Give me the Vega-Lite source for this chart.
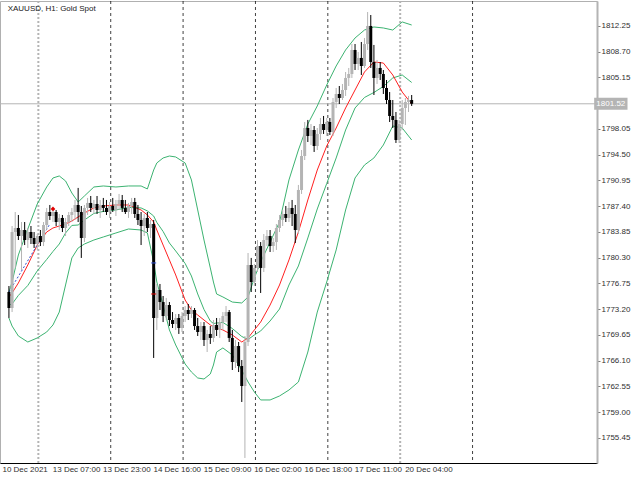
{
  "$schema": "https://vega.github.io/schema/vega-lite/v6.json",
  "width": 597,
  "height": 462,
  "autosize": {"type": "none"},
  "padding": {"left": 0, "top": 1, "right": 43, "bottom": 17},
  "background": "#ffffff",
  "config": {
    "view": {"stroke": "#b0b0b0", "strokeWidth": 1},
    "axis": {"title": null, "grid": false, "labelFont": "Liberation Sans", "labelFontSize": 8, "labelColor": "#303030", "labelOverlap": false, "labelFlush": false},
    "axisX": {"tickCount": 20},
    "axisY": {"tickCount": 30},
    "font": "Liberation Sans"
  },
  "datasets": {
    "candles": [
      {"i":0,"o":1775.57,"h":1776.40,"l":1771.99,"c":1773.37},
      {"i":1,"o":1773.37,"h":1784.67,"l":1772.81,"c":1783.84},
      {"i":2,"o":1783.84,"h":1786.60,"l":1778.89,"c":1784.40},
      {"i":3,"o":1784.40,"h":1786.19,"l":1782.74,"c":1783.29},
      {"i":4,"o":1783.29,"h":1785.22,"l":1778.61,"c":1784.12},
      {"i":5,"o":1784.12,"h":1785.22,"l":1782.05,"c":1782.74},
      {"i":6,"o":1782.74,"h":1784.40,"l":1781.64,"c":1783.84},
      {"i":7,"o":1783.84,"h":1784.67,"l":1782.19,"c":1783.02},
      {"i":8,"o":1783.02,"h":1783.84,"l":1781.64,"c":1782.19},
      {"i":9,"o":1782.19,"h":1783.57,"l":1781.37,"c":1783.29},
      {"i":10,"o":1783.29,"h":1784.12,"l":1781.91,"c":1782.46},
      {"i":11,"o":1782.46,"h":1785.22,"l":1781.91,"c":1784.81},
      {"i":12,"o":1784.81,"h":1787.16,"l":1784.12,"c":1786.60},
      {"i":13,"o":1786.60,"h":1787.57,"l":1785.50,"c":1786.05},
      {"i":14,"o":1786.05,"h":1787.16,"l":1785.22,"c":1786.60},
      {"i":15,"o":1786.60,"h":1786.88,"l":1784.67,"c":1785.22},
      {"i":16,"o":1785.22,"h":1786.33,"l":1784.12,"c":1785.78},
      {"i":17,"o":1785.78,"h":1786.19,"l":1783.84,"c":1784.40},
      {"i":18,"o":1784.40,"h":1785.78,"l":1783.29,"c":1785.22},
      {"i":19,"o":1785.22,"h":1786.60,"l":1784.67,"c":1786.19},
      {"i":20,"o":1786.19,"h":1787.16,"l":1785.22,"c":1786.60},
      {"i":21,"o":1786.60,"h":1788.26,"l":1785.50,"c":1787.57},
      {"i":22,"o":1787.57,"h":1789.92,"l":1785.22,"c":1786.60},
      {"i":23,"o":1786.60,"h":1787.43,"l":1780.27,"c":1783.02},
      {"i":24,"o":1783.02,"h":1787.57,"l":1782.46,"c":1787.16},
      {"i":25,"o":1787.16,"h":1788.54,"l":1786.19,"c":1787.85},
      {"i":26,"o":1787.85,"h":1788.81,"l":1786.60,"c":1787.16},
      {"i":27,"o":1787.16,"h":1788.26,"l":1786.33,"c":1787.71},
      {"i":28,"o":1787.71,"h":1788.81,"l":1786.33,"c":1786.88},
      {"i":29,"o":1786.88,"h":1788.26,"l":1785.78,"c":1787.57},
      {"i":30,"o":1787.57,"h":1788.54,"l":1786.60,"c":1787.16},
      {"i":31,"o":1787.16,"h":1788.26,"l":1786.19,"c":1786.60},
      {"i":32,"o":1786.60,"h":1787.98,"l":1785.78,"c":1787.43},
      {"i":33,"o":1787.43,"h":1788.54,"l":1786.60,"c":1786.88},
      {"i":34,"o":1786.88,"h":1788.26,"l":1786.05,"c":1787.71},
      {"i":35,"o":1787.71,"h":1789.09,"l":1786.88,"c":1788.26},
      {"i":36,"o":1788.26,"h":1788.95,"l":1786.60,"c":1787.16},
      {"i":37,"o":1787.16,"h":1788.26,"l":1786.33,"c":1786.60},
      {"i":38,"o":1786.60,"h":1787.85,"l":1785.78,"c":1787.43},
      {"i":39,"o":1787.43,"h":1788.54,"l":1786.33,"c":1787.98},
      {"i":40,"o":1787.98,"h":1788.54,"l":1785.78,"c":1786.33},
      {"i":41,"o":1786.33,"h":1787.57,"l":1784.81,"c":1785.50},
      {"i":42,"o":1785.50,"h":1786.60,"l":1782.05,"c":1784.67},
      {"i":43,"o":1784.67,"h":1786.33,"l":1783.29,"c":1785.78},
      {"i":44,"o":1785.78,"h":1786.60,"l":1783.84,"c":1784.40},
      {"i":45,"o":1784.40,"h":1785.50,"l":1783.02,"c":1784.95},
      {"i":46,"o":1784.95,"h":1785.50,"l":1766.48,"c":1771.99},
      {"i":47,"o":1771.99,"h":1776.68,"l":1770.34,"c":1775.85},
      {"i":48,"o":1775.85,"h":1776.68,"l":1773.09,"c":1774.19},
      {"i":49,"o":1774.19,"h":1775.02,"l":1771.43,"c":1772.26},
      {"i":50,"o":1772.26,"h":1774.75,"l":1771.71,"c":1773.78},
      {"i":51,"o":1773.78,"h":1774.19,"l":1770.88,"c":1771.71},
      {"i":52,"o":1771.71,"h":1772.81,"l":1770.61,"c":1771.16},
      {"i":53,"o":1771.16,"h":1772.54,"l":1770.34,"c":1771.99},
      {"i":54,"o":1771.99,"h":1772.54,"l":1769.79,"c":1770.61},
      {"i":55,"o":1770.61,"h":1772.81,"l":1770.06,"c":1772.26},
      {"i":56,"o":1772.26,"h":1773.64,"l":1771.43,"c":1773.09},
      {"i":57,"o":1773.09,"h":1773.92,"l":1771.71,"c":1772.54},
      {"i":58,"o":1772.54,"h":1773.64,"l":1771.99,"c":1773.09},
      {"i":59,"o":1773.09,"h":1773.37,"l":1770.34,"c":1770.88},
      {"i":60,"o":1770.88,"h":1771.99,"l":1769.51,"c":1770.06},
      {"i":61,"o":1770.06,"h":1771.43,"l":1768.96,"c":1770.88},
      {"i":62,"o":1770.88,"h":1771.43,"l":1768.13,"c":1768.96},
      {"i":63,"o":1768.96,"h":1770.34,"l":1767.30,"c":1769.79},
      {"i":64,"o":1769.79,"h":1770.88,"l":1768.41,"c":1769.24},
      {"i":65,"o":1769.24,"h":1771.71,"l":1768.68,"c":1771.03},
      {"i":66,"o":1771.03,"h":1771.99,"l":1769.51,"c":1770.34},
      {"i":67,"o":1770.34,"h":1771.99,"l":1769.24,"c":1771.43},
      {"i":68,"o":1771.43,"h":1772.81,"l":1770.34,"c":1772.26},
      {"i":69,"o":1772.26,"h":1773.64,"l":1771.43,"c":1772.81},
      {"i":70,"o":1772.81,"h":1773.09,"l":1768.68,"c":1769.24},
      {"i":71,"o":1769.24,"h":1770.34,"l":1764.82,"c":1765.92},
      {"i":72,"o":1765.92,"h":1768.96,"l":1765.10,"c":1768.13},
      {"i":73,"o":1768.13,"h":1768.68,"l":1764.54,"c":1765.37},
      {"i":74,"o":1765.37,"h":1766.20,"l":1760.41,"c":1762.61},
      {"i":75,"o":1762.61,"h":1769.51,"l":1752.69,"c":1768.68},
      {"i":76,"o":1768.68,"h":1780.95,"l":1768.13,"c":1779.30},
      {"i":77,"o":1779.30,"h":1780.27,"l":1775.57,"c":1776.95},
      {"i":78,"o":1776.95,"h":1779.44,"l":1776.40,"c":1778.89},
      {"i":79,"o":1778.89,"h":1782.74,"l":1778.33,"c":1781.91},
      {"i":80,"o":1781.91,"h":1782.46,"l":1775.44,"c":1778.89},
      {"i":81,"o":1778.89,"h":1783.57,"l":1778.33,"c":1782.74},
      {"i":82,"o":1782.74,"h":1784.12,"l":1781.91,"c":1783.29},
      {"i":83,"o":1783.29,"h":1784.12,"l":1781.09,"c":1781.91},
      {"i":84,"o":1781.91,"h":1783.02,"l":1781.09,"c":1782.46},
      {"i":85,"o":1782.46,"h":1784.95,"l":1781.37,"c":1784.40},
      {"i":86,"o":1784.40,"h":1786.19,"l":1783.84,"c":1785.50},
      {"i":87,"o":1785.50,"h":1786.88,"l":1784.67,"c":1786.33},
      {"i":88,"o":1786.33,"h":1787.43,"l":1785.22,"c":1785.78},
      {"i":89,"o":1785.78,"h":1787.98,"l":1785.22,"c":1787.16},
      {"i":90,"o":1787.16,"h":1788.26,"l":1784.67,"c":1786.33},
      {"i":91,"o":1786.33,"h":1787.57,"l":1782.32,"c":1784.12},
      {"i":92,"o":1784.12,"h":1790.33,"l":1783.57,"c":1789.64},
      {"i":93,"o":1789.64,"h":1795.15,"l":1789.09,"c":1794.32},
      {"i":94,"o":1794.32,"h":1799.01,"l":1793.77,"c":1798.18},
      {"i":95,"o":1798.18,"h":1799.29,"l":1796.25,"c":1797.08},
      {"i":96,"o":1797.08,"h":1798.73,"l":1795.84,"c":1797.91},
      {"i":97,"o":1797.91,"h":1798.46,"l":1794.88,"c":1795.70},
      {"i":98,"o":1795.70,"h":1798.18,"l":1795.15,"c":1797.36},
      {"i":99,"o":1797.36,"h":1799.56,"l":1796.53,"c":1798.73},
      {"i":100,"o":1798.73,"h":1799.84,"l":1797.36,"c":1797.91},
      {"i":101,"o":1797.91,"h":1799.56,"l":1797.08,"c":1799.01},
      {"i":102,"o":1799.01,"h":1799.56,"l":1797.22,"c":1797.63},
      {"i":103,"o":1797.63,"h":1802.32,"l":1797.08,"c":1801.77},
      {"i":104,"o":1801.77,"h":1803.70,"l":1800.94,"c":1802.87},
      {"i":105,"o":1802.87,"h":1803.97,"l":1801.49,"c":1802.32},
      {"i":106,"o":1802.32,"h":1804.25,"l":1802.04,"c":1803.42},
      {"i":107,"o":1803.42,"h":1805.90,"l":1802.60,"c":1805.08},
      {"i":108,"o":1805.08,"h":1806.46,"l":1803.97,"c":1805.63},
      {"i":109,"o":1805.63,"h":1809.76,"l":1805.08,"c":1808.94},
      {"i":110,"o":1808.94,"h":1809.76,"l":1806.18,"c":1807.01},
      {"i":111,"o":1807.01,"h":1808.66,"l":1806.18,"c":1807.84},
      {"i":112,"o":1807.84,"h":1810.04,"l":1805.49,"c":1806.73},
      {"i":113,"o":1806.73,"h":1810.59,"l":1806.46,"c":1809.76},
      {"i":114,"o":1809.76,"h":1814.17,"l":1808.94,"c":1812.25},
      {"i":115,"o":1812.25,"h":1813.76,"l":1806.46,"c":1807.28},
      {"i":116,"o":1807.28,"h":1809.63,"l":1802.73,"c":1805.08},
      {"i":117,"o":1805.08,"h":1807.56,"l":1804.25,"c":1806.46},
      {"i":118,"o":1806.46,"h":1807.28,"l":1804.80,"c":1805.63},
      {"i":119,"o":1805.63,"h":1806.18,"l":1802.87,"c":1803.70},
      {"i":120,"o":1803.70,"h":1804.80,"l":1801.49,"c":1802.04},
      {"i":121,"o":1802.04,"h":1803.14,"l":1799.01,"c":1799.84},
      {"i":122,"o":1799.84,"h":1802.04,"l":1798.18,"c":1799.29},
      {"i":123,"o":1799.29,"h":1800.39,"l":1796.12,"c":1796.53},
      {"i":124,"o":1796.53,"h":1799.29,"l":1796.12,"c":1798.73},
      {"i":125,"o":1798.73,"h":1802.04,"l":1797.91,"c":1800.94},
      {"i":126,"o":1800.94,"h":1802.32,"l":1798.60,"c":1801.77},
      {"i":127,"o":1801.77,"h":1802.60,"l":1800.39,"c":1802.04},
      {"i":128,"o":1802.04,"h":1802.73,"l":1801.22,"c":1801.52}
    ],
    "bands": [
      {"i":0,"u":1775.57,"m":1773.78,"lo":1771.99,"r":1774.88},
      {"i":1,"u":1776.95,"m":1773.92,"lo":1770.88,"r":1775.44},
      {"i":3,"u":1780.68,"m":1775.10,"lo":1769.51,"r":1776.82},
      {"i":6,"u":1784.26,"m":1776.47,"lo":1768.68,"r":1779.30},
      {"i":9,"u":1787.71,"m":1778.48,"lo":1769.24,"r":1782.05},
      {"i":12,"u":1790.05,"m":1780.06,"lo":1770.06,"r":1783.84},
      {"i":14,"u":1791.29,"m":1781.16,"lo":1771.03,"r":1784.40},
      {"i":16,"u":1791.57,"m":1782.19,"lo":1772.81,"r":1784.67},
      {"i":18,"u":1790.88,"m":1783.71,"lo":1776.54,"r":1784.95},
      {"i":20,"u":1789.22,"m":1784.75,"lo":1780.27,"r":1785.36},
      {"i":22,"u":1787.98,"m":1784.81,"lo":1781.64,"r":1785.92},
      {"i":24,"u":1788.81,"m":1785.50,"lo":1782.19,"r":1786.47},
      {"i":27,"u":1790.05,"m":1786.40,"lo":1782.74,"r":1787.16},
      {"i":30,"u":1790.19,"m":1786.68,"lo":1783.16,"r":1787.43},
      {"i":34,"u":1790.05,"m":1786.88,"lo":1783.71,"r":1787.57},
      {"i":38,"u":1790.19,"m":1787.23,"lo":1784.26,"r":1787.57},
      {"i":42,"u":1790.19,"m":1787.16,"lo":1784.12,"r":1786.88},
      {"i":44,"u":1789.78,"m":1786.75,"lo":1783.71,"r":1786.19},
      {"i":46,"u":1792.39,"m":1786.05,"lo":1779.71,"r":1785.22},
      {"i":47,"u":1793.36,"m":1785.16,"lo":1776.95,"r":1784.12},
      {"i":49,"u":1794.05,"m":1783.92,"lo":1773.78,"r":1782.05},
      {"i":51,"u":1794.32,"m":1782.33,"lo":1770.34,"r":1779.99},
      {"i":53,"u":1794.19,"m":1781.23,"lo":1768.27,"r":1777.92},
      {"i":56,"u":1793.36,"m":1779.51,"lo":1765.65,"r":1774.47},
      {"i":58,"u":1791.02,"m":1777.78,"lo":1764.54,"r":1773.09},
      {"i":60,"u":1786.88,"m":1775.30,"lo":1763.72,"r":1772.40},
      {"i":62,"u":1782.74,"m":1773.16,"lo":1763.58,"r":1771.71},
      {"i":64,"u":1778.89,"m":1771.58,"lo":1764.27,"r":1771.03},
      {"i":65,"u":1776.95,"m":1771.23,"lo":1765.51,"r":1770.75},
      {"i":66,"u":1775.30,"m":1771.30,"lo":1767.30,"r":1770.61},
      {"i":68,"u":1774.89,"m":1771.38,"lo":1767.86,"r":1770.34},
      {"i":71,"u":1774.19,"m":1770.54,"lo":1766.89,"r":1769.65},
      {"i":74,"u":1774.06,"m":1769.44,"lo":1764.82,"r":1768.68},
      {"i":76,"u":1774.89,"m":1769.03,"lo":1763.17,"r":1769.24},
      {"i":78,"u":1777.51,"m":1769.65,"lo":1761.79,"r":1770.34},
      {"i":80,"u":1779.71,"m":1770.20,"lo":1760.69,"r":1771.43},
      {"i":83,"u":1782.46,"m":1771.58,"lo":1760.69,"r":1773.78},
      {"i":86,"u":1785.22,"m":1773.23,"lo":1761.24,"r":1776.54},
      {"i":89,"u":1791.02,"m":1776.54,"lo":1762.06,"r":1779.99},
      {"i":92,"u":1795.15,"m":1779.16,"lo":1763.17,"r":1783.84},
      {"i":95,"u":1798.73,"m":1783.02,"lo":1767.30,"r":1788.26},
      {"i":98,"u":1801.22,"m":1787.02,"lo":1772.81,"r":1792.39},
      {"i":101,"u":1804.11,"m":1790.53,"lo":1776.95,"r":1795.70},
      {"i":104,"u":1806.73,"m":1794.05,"lo":1781.37,"r":1798.18},
      {"i":107,"u":1808.94,"m":1797.91,"lo":1786.88,"r":1800.94},
      {"i":110,"u":1810.59,"m":1800.94,"lo":1791.29,"r":1803.42},
      {"i":113,"u":1811.69,"m":1802.39,"lo":1793.08,"r":1805.90},
      {"i":116,"u":1812.11,"m":1803.08,"lo":1794.05,"r":1807.28},
      {"i":119,"u":1811.97,"m":1803.91,"lo":1795.84,"r":1807.14},
      {"i":122,"u":1811.69,"m":1805.08,"lo":1798.46,"r":1805.49},
      {"i":125,"u":1812.80,"m":1805.49,"lo":1798.18,"r":1803.14},
      {"i":128,"u":1812.38,"m":1804.46,"lo":1796.53,"r":1801.49}
    ],
    "grid": [
      {"i":9.35,"k":"week"},
      {"i":32.35,"k":"day"},
      {"i":55.35,"k":"day"},
      {"i":78.35,"k":"day"},
      {"i":101.35,"k":"day"},
      {"i":124.35,"k":"week"},
      {"i":147.35,"k":"day"}
    ],
    "trend": [
      {"i":0,"p":1775.57},
      {"i":13,"p":1784.95}
    ],
    "marks": [
      {"i":14,"p":1787.02,"k":"dot"},
      {"i":46,"p":1779.58,"k":"blue"},
      {"i":46,"p":1775.30,"k":"red"}
    ],
    "last": [
      {"symbol":"XAUUSD","tf":"H1","name":"Gold Spot","price":1801.52}
    ]
  },
  "layer": [
    {
      "data": {"name": "grid"},
      "transform": [{"filter": "datum.k == 'day'"}],
      "mark": {"type": "rule", "color": "#000000", "strokeWidth": 1, "strokeDash": [3, 3], "opacity": 0.75},
      "encoding": {
        "x": {"field": "i", "type": "quantitative", "scale": {"domain": [-1.25, 185.3125], "nice": false, "zero": false}}
      }
    },
    {
      "data": {"name": "grid"},
      "transform": [{"filter": "datum.k == 'week'"}],
      "mark": {"type": "rule", "color": "#b4b4b4", "strokeWidth": 2, "strokeDash": [2, 2]},
      "encoding": {
        "x": {"field": "i", "type": "quantitative", "scale": {"domain": [-1.25, 185.3125], "nice": false, "zero": false}}
      }
    },
    {
      "data": {"name": "last"},
      "mark": {"type": "rule", "color": "#b4b4b4", "strokeWidth": 1},
      "encoding": {
        "y": {"field": "price", "type": "quantitative", "scale": {"domain": [1752.0, 1815.69], "nice": false, "zero": false}}
      }
    },
    {
      "data": {"name": "bands"},
      "mark": {"type": "line", "color": "#3cb371", "strokeWidth": 1},
      "encoding": {
        "x": {"field": "i", "type": "quantitative", "scale": {"domain": [-1.25, 185.3125], "nice": false, "zero": false}},
        "y": {"field": "u", "type": "quantitative", "scale": {"domain": [1752.0, 1815.69], "nice": false, "zero": false}}
      }
    },
    {
      "data": {"name": "bands"},
      "mark": {"type": "line", "color": "#3cb371", "strokeWidth": 1},
      "encoding": {
        "x": {"field": "i", "type": "quantitative"},
        "y": {"field": "m", "type": "quantitative"}
      }
    },
    {
      "data": {"name": "bands"},
      "mark": {"type": "line", "color": "#3cb371", "strokeWidth": 1},
      "encoding": {
        "x": {"field": "i", "type": "quantitative"},
        "y": {"field": "lo", "type": "quantitative"}
      }
    },
    {
      "data": {"name": "bands"},
      "mark": {"type": "line", "color": "#ff2020", "strokeWidth": 1},
      "encoding": {
        "x": {"field": "i", "type": "quantitative"},
        "y": {"field": "r", "type": "quantitative"}
      }
    },
    {
      "data": {"name": "trend"},
      "mark": {"type": "line", "color": "#3050d0", "strokeWidth": 1, "strokeDash": [2, 2]},
      "encoding": {
        "x": {"field": "i", "type": "quantitative"},
        "y": {"field": "p", "type": "quantitative"}
      }
    },
    {
      "data": {"name": "candles"},
      "mark": {"type": "rule", "strokeWidth": 1},
      "encoding": {
        "x": {"field": "i", "type": "quantitative",
          "axis": {
            "values": [0, 16, 32, 48, 64, 80, 96, 112, 128],
            "tickCount": 20,
            "labelExpr": "datum.value == 0 ? '10 Dec 2021' : datum.value == 16 ? '13 Dec 07:00' : datum.value == 32 ? '13 Dec 23:00' : datum.value == 48 ? '14 Dec 16:00' : datum.value == 64 ? '15 Dec 09:00' : datum.value == 80 ? '16 Dec 02:00' : datum.value == 96 ? '16 Dec 18:00' : datum.value == 112 ? '17 Dec 11:00' : '20 Dec 04:00'",
            "labelAlign": "left",
            "labelBaseline": "top",
            "labelOffset": -7,
            "labelPadding": 2,
            "ticks": false,
            "domainColor": "#000000",
            "labelOverlap": false,
            "labelFlush": false
          }
        },
        "y": {"field": "l", "type": "quantitative",
          "axis": {
            "orient": "right",
            "values": [1755.45, 1759.00, 1762.55, 1766.10, 1769.65, 1773.20, 1776.75, 1780.30, 1783.85, 1787.40, 1790.95, 1794.50, 1798.05, 1805.15, 1808.70, 1812.25],
            "tickCount": 30,
            "format": ".2f",
            "labelAlign": "left",
            "labelBaseline": "middle",
            "labelPadding": 1,
            "tickSize": 3,
            "tickColor": "#808080",
            "domainColor": "#b4b4b4",
            "domainWidth": 2,
            "labelOverlap": false,
            "labelFlush": false
          }
        },
        "y2": {"field": "h"},
        "color": {"condition": {"test": "datum.c >= datum.o", "value": "#b4b4b4"}, "value": "#000000"}
      }
    },
    {
      "data": {"name": "candles"},
      "mark": {"type": "bar", "size": 3},
      "encoding": {
        "x": {"field": "i", "type": "quantitative"},
        "y": {"field": "o", "type": "quantitative"},
        "y2": {"field": "c"},
        "color": {"condition": {"test": "datum.c >= datum.o", "value": "#b4b4b4"}, "value": "#000000"}
      }
    },
    {
      "data": {"name": "marks"},
      "transform": [{"filter": "datum.k == 'dot'"}],
      "mark": {"type": "point", "filled": true, "shape": "diamond", "size": 22, "color": "#e00000", "opacity": 1},
      "encoding": {
        "x": {"field": "i", "type": "quantitative"},
        "y": {"field": "p", "type": "quantitative"}
      }
    },
    {
      "data": {"name": "marks"},
      "transform": [{"filter": "datum.k != 'dot'"}],
      "mark": {"type": "tick", "orient": "horizontal", "size": 5, "thickness": 1.5},
      "encoding": {
        "x": {"field": "i", "type": "quantitative"},
        "y": {"field": "p", "type": "quantitative"},
        "color": {"field": "k", "type": "nominal", "scale": {"domain": ["blue", "red"], "range": ["#3050d0", "#e00000"]}, "legend": null}
      }
    },
    {
      "data": {"name": "last"},
      "mark": {"type": "text", "align": "left", "baseline": "middle", "fontSize": 8, "font": "Liberation Sans", "color": "#202020"},
      "encoding": {
        "x": {"datum": -0.4, "type": "quantitative"},
        "y": {"datum": 1814.6, "type": "quantitative"},
        "text": {"value": "XAUUSD, H1:  Gold Spot"}
      }
    },
    {
      "data": {"name": "last"},
      "mark": {"type": "rect", "color": "#b4b4b4", "clip": false},
      "encoding": {
        "x": {"datum": 186.0, "type": "quantitative"},
        "x2": {"datum": 196.6},
        "y": {"datum": 1802.35, "type": "quantitative"},
        "y2": {"datum": 1800.69}
      }
    },
    {
      "data": {"name": "last"},
      "mark": {"type": "text", "align": "left", "baseline": "middle", "fontSize": 8, "font": "Liberation Sans", "color": "#ffffff", "clip": false},
      "encoding": {
        "x": {"datum": 186.7, "type": "quantitative"},
        "y": {"field": "price", "type": "quantitative"},
        "text": {"field": "price", "type": "quantitative", "format": ".2f"}
      }
    }
  ]
}
